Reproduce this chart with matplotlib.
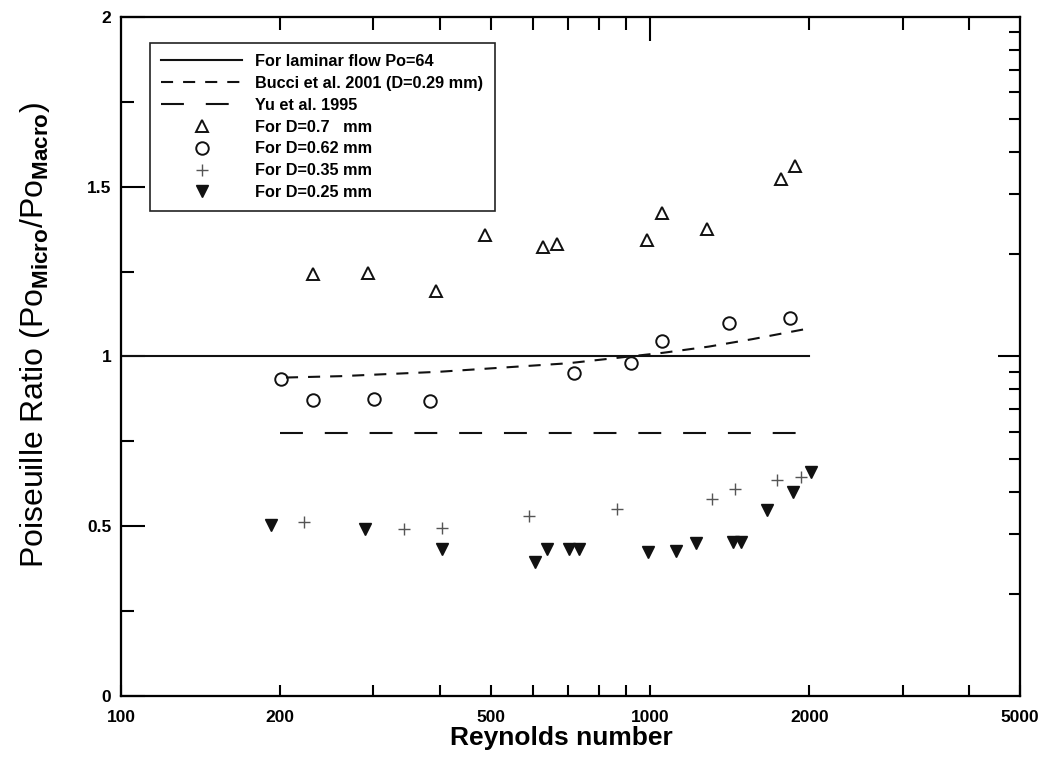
import matplotlib
matplotlib.use('Agg')
import matplotlib.pyplot as plt
import numpy as np

plt.rcParams['font.family'] = ['Liberation Sans', 'DejaVu Sans']
plt.rcParams['mathtext.fontset'] = 'custom'
plt.rcParams['mathtext.rm'] = 'Liberation Sans'
plt.rcParams['mathtext.bf'] = 'Liberation Sans:bold'

# data
re_07 = [231, 293, 393, 488, 628, 668, 988, 1052, 1282, 1771, 1882]
po_07 = [1.243, 1.245, 1.194, 1.359, 1.323, 1.331, 1.343, 1.422, 1.375, 1.522, 1.561]

re_062 = [201, 231, 301, 384, 718, 919, 1054, 1408, 1836]
po_062 = [0.933, 0.872, 0.874, 0.870, 0.952, 0.982, 1.046, 1.100, 1.113]

re_035 = [222, 343, 404, 591, 865, 1307, 1449, 1733, 1924]
po_035 = [0.513, 0.491, 0.494, 0.530, 0.550, 0.579, 0.609, 0.636, 0.646]

re_025 = [192, 289, 404, 606, 638, 701, 734, 991, 1117, 1219, 1435, 1486, 1660, 1862, 2013]
po_025 = [0.504, 0.492, 0.432, 0.396, 0.434, 0.432, 0.432, 0.425, 0.427, 0.450, 0.454,
          0.454, 0.548, 0.600, 0.661]

re_lam = [100, 2000]
po_lam = [1.0, 1.0]

re_bucci = [205, 260, 400, 700, 1060, 1290, 1560, 1970]
po_bucci = [0.938, 0.942, 0.955, 0.980, 1.011, 1.029, 1.051, 1.081]

re_yu = [200, 2000]
po_yu = [0.776, 0.776]

xticks = [100, 200, 500, 1000, 2000, 5000]
xminor = [300, 400, 600, 700, 800, 900, 3000, 4000]

fig = plt.figure(figsize=(10.56, 7.71), dpi=100)
ax = fig.add_axes([0.1146, 0.0973, 0.8513, 0.8807])

lw = 1.5
ax.plot(re_lam, po_lam, color='#111111', lw=lw, label='For laminar flow Po=64')
ax.plot(re_bucci, po_bucci, color='#111111', lw=lw, dashes=(5.8, 4.8),
        label='Bucci et al. 2001 (D=0.29 mm)')
ax.plot(re_yu, po_yu, color='#111111', lw=lw, dashes=(11, 10.5), label='Yu et al. 1995')
ax.plot(re_07, po_07, ls='none', marker='^', ms=8, mfc='none', mec='#111111', mew=1.4,
        label='For D=0.7   mm')
ax.plot(re_062, po_062, ls='none', marker='o', ms=9, mfc='none', mec='#111111', mew=1.4,
        label='For D=0.62 mm')
ax.plot(re_035, po_035, ls='none', marker='+', ms=8, mec='#555555', mew=1.0,
        label='For D=0.35 mm')
ax.plot(re_025, po_025, ls='none', marker='v', ms=9, mfc='#111111', mec='#111111',
        label='For D=0.25 mm')

ax.set_xscale('log')
ax.set_xlim(100, 5000)
ax.set_ylim(0, 2)
ax.set_xticks(xticks)
ax.set_xticklabels([str(t) for t in xticks])
ax.set_xticks(xminor, minor=True)
ax.set_yticks([0, 0.5, 1, 1.5, 2])
ax.set_yticklabels(['0', '0.5', '1', '1.5', '2'])
ax.set_yticks([0.25, 0.75, 1.25, 1.75], minor=True)
ax.tick_params(axis='x', which='both', direction='in', length=8, width=1.5,
               labelsize=12.5, pad=10, top=False)
ax.tick_params(axis='y', which='major', direction='in', length=17, width=1.5,
               labelsize=12.5, pad=7, right=False)
ax.tick_params(axis='y', which='minor', direction='in', length=9.5, width=1.5, right=False)
for lab in ax.get_xticklabels() + ax.get_yticklabels():
    lab.set_fontweight('bold')
for s in ax.spines.values():
    s.set_linewidth(1.5)

# top axis ticks
axt = ax.twiny()
axt.set_xscale('log')
axt.set_xlim(100, 5000)
axt.set_xticks([1000])
axt.set_xticks([200, 300, 400, 500, 600, 700, 800, 900, 2000, 3000, 4000], minor=True)
axt.tick_params(axis='x', which='major', direction='in', length=17, width=1.5, labeltop=False)
axt.tick_params(axis='x', which='minor', direction='in', length=9.5, width=1.5, labeltop=False)

# right axis ticks (decade-like spacing)
axr = ax.twinx()
axr.set_ylim(0, 2)
k = np.arange(2, 10)
axr.set_yticks([1])
axr.set_yticks(list(np.log10(k)) + list(1 + np.log10(k)), minor=True)
axr.tick_params(axis='y', which='major', direction='in', length=16, width=1.5, labelright=False)
axr.tick_params(axis='y', which='minor', direction='in', length=8, width=1.5, labelright=False)
for a in (axt, axr):
    for s in a.spines.values():
        s.set_linewidth(1.5)

leg = ax.legend(loc='upper left', bbox_to_anchor=(0.032, 0.962), borderaxespad=0,
                prop={'weight': 'bold', 'size': 11.7}, handlelength=5.0, handletextpad=0.8,
                labelspacing=0.42, borderpad=0.7, fancybox=False, framealpha=1,
                edgecolor='#222222')
leg.get_frame().set_linewidth(1.2)
axt.set_zorder(0)
axr.set_zorder(0)
ax.set_zorder(1)
ax.patch.set_visible(False)

fig.text(0.532, 0.043, 'Reynolds number', ha='center', va='center', fontsize=19,
         fontweight='bold')
fig.text(0.033, 0.565, r'Poiseuille Ratio (Po$_{\mathbf{Micro}}$/Po$_{\mathbf{Macro}}$)',
         ha='center', va='center', rotation=90, fontsize=23)

fig.savefig('out.png', dpi=100)
